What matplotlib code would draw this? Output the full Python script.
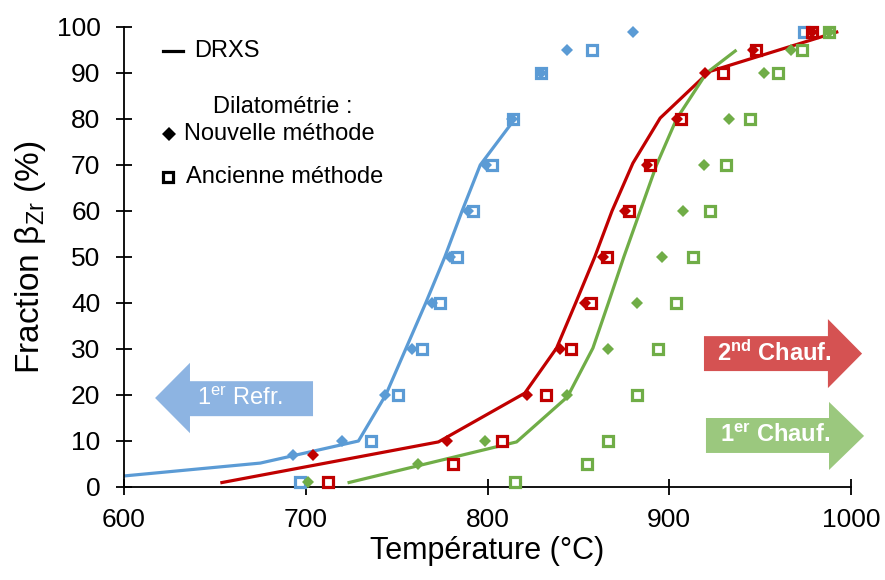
import matplotlib
matplotlib.use("Agg")
import matplotlib.pyplot as plt
from matplotlib.patches import Polygon

plt.rcParams['font.family'] = ['Liberation Sans', 'DejaVu Sans']
plt.rcParams['mathtext.fontset'] = 'custom'
plt.rcParams['mathtext.rm'] = 'Liberation Sans'
plt.rcParams['mathtext.it'] = 'Liberation Sans:italic'
plt.rcParams['mathtext.bf'] = 'Liberation Sans:bold'

# ---------------- data ----------------
# DRXS curves
refr_line_T = [600, 675, 729, 744, 755, 766, 776.5, 786, 796, 815]
refr_line_F = [2.4, 5.2, 10, 20, 30, 40, 50, 60, 70, 80]
chauf2_line_T = [653, 773, 820.5, 838, 848.5, 859, 868.5, 880, 895, 922, 993]
chauf2_line_F = [0.9, 9.8, 20.4, 30.2, 40, 50, 60, 70.4, 80.2, 90.3, 99]
chauf1_line_T = [723, 816, 844, 858, 866.5, 875, 884, 893, 904, 920.5, 937]
chauf1_line_F = [0.9, 9.8, 19.6, 30.2, 40, 50, 60, 70, 80, 90, 95]

# Dilatometry - new method (diamonds)
refr_new_T = [693, 720, 743.5, 758.5, 769.5, 779.5, 789, 799, 813.5, 829.5, 843.5, 880]
refr_new_F = [7, 10, 20, 30, 40, 50, 60, 70, 80, 90, 95, 99]
chauf2_new_T = [704, 777.5, 822, 840, 853.5, 863.5, 875.5, 887.5, 904, 919.5, 946, 978.5]
chauf2_new_F = [7, 10, 20, 30, 40, 50, 60, 70, 80, 90, 95, 99]
chauf1_new_T = [701, 762, 798.5, 843.5, 866.5, 882.5, 896, 907.5, 919, 933, 952, 967, 988]
chauf1_new_F = [1, 5, 10, 20, 30, 40, 50, 60, 70, 80, 90, 95, 99]

# Dilatometry - old method (open squares)
refr_old_T = [697, 736, 751, 764, 774, 783, 792, 802.5, 814, 829.5, 857.5, 974]
refr_old_F = [1, 10, 20, 30, 40, 50, 60, 70, 80, 90, 95, 99]
chauf2_old_T = [712, 781, 808, 832, 846, 857, 866, 878, 889.5, 906.5, 929.5, 948, 978.5]
chauf2_old_F = [1, 5, 10, 20, 30, 40, 50, 60, 70, 80, 90, 95, 99]
chauf1_old_T = [815, 854.5, 866.5, 882.5, 894, 903.5, 913, 922.5, 931, 944.5, 960, 973, 988]
chauf1_old_F = [1, 5, 10, 20, 30, 40, 50, 60, 70, 80, 90, 95, 99]

x_ticks = [600, 700, 800, 900, 1000]
y_ticks = [0, 10, 20, 30, 40, 50, 60, 70, 80, 90, 100]

BLUE = '#5B9BD5'
RED = '#C00000'
GREEN = '#70AD47'

# ---------------- figure ----------------
fig = plt.figure(figsize=(8.85, 5.8), dpi=100)
ax = fig.add_axes([124/885, (580-487)/580, 727/885, 460/580])

lw = 2.3
ax.plot(refr_line_T, refr_line_F, color=BLUE, lw=lw, zorder=2, solid_capstyle='butt')
ax.plot(chauf2_line_T, chauf2_line_F, color=RED, lw=lw, zorder=2, solid_capstyle='butt')
ax.plot(chauf1_line_T, chauf1_line_F, color=GREEN, lw=lw, zorder=2, solid_capstyle='butt')

sq = dict(marker='s', ls='none', ms=6.8, mew=2.3, mfc='white', zorder=3, clip_on=False)
ax.plot(refr_old_T, refr_old_F, mec=BLUE, **sq)
ax.plot(chauf1_old_T, chauf1_old_F, mec=GREEN, **sq)
ax.plot(chauf2_old_T, chauf2_old_F, mec=RED, **sq)

dm = dict(marker='D', ls='none', ms=6.6, mew=0, zorder=4, clip_on=False)
ax.plot(refr_new_T, refr_new_F, mfc=BLUE, **dm)
ax.plot(chauf1_new_T, chauf1_new_F, mfc=GREEN, **dm)
ax.plot(chauf2_new_T, chauf2_new_F, mfc=RED, **dm)

ax.set_xlim(600, 1000)
ax.set_ylim(0, 100)
ax.set_xticks(x_ticks)
ax.set_yticks(y_ticks)
for s in ['top', 'right']:
    ax.spines[s].set_visible(False)
for s in ['left', 'bottom']:
    ax.spines[s].set_linewidth(1.3)
ax.tick_params(direction='inout', length=12, width=1.3, labelsize=19)
ax.tick_params(axis='y', pad=11)
ax.tick_params(axis='x', pad=9)
ax.set_xlabel('Température (°C)', fontsize=22, labelpad=3)
ax.set_ylabel(r'Fraction β$_{\mathrm{Zr}}$ (%)', fontsize=24, labelpad=6)

# ---------------- arrows ----------------
def arrow(body_x0, body_x1, tip_x, body_y0, body_y1, head_y0, head_y1, color):
    ymid = (head_y0 + head_y1) / 2
    pts = [(body_x0, body_y0), (body_x1, body_y0), (body_x1, head_y0), (tip_x, ymid),
           (body_x1, head_y1), (body_x1, body_y1), (body_x0, body_y1)]
    ax.add_patch(Polygon(pts, closed=True, facecolor=color, edgecolor='none',
                         clip_on=False, zorder=1))

# 1er Refr. (left-pointing)
arrow(704.0, 636.3, 617.1, 15.4, 23.0, 11.7, 27.0, '#8DB4E2')
ax.text(664, 19.3, r'1$^{\mathrm{er}}$ Refr.', color='white', fontsize=17,
        ha='center', va='center', zorder=5)
# 2nd Chauf.
arrow(919.1, 987.3, 1006.1, 25.2, 32.8, 21.5, 36.5, '#D55252')
ax.text(958, 29.0, r'2$^{\mathbf{nd}}$ Chauf.', color='white', fontsize=17,
        fontweight='bold', ha='center', va='center', zorder=5, clip_on=False)
# 1er Chauf.
arrow(920.2, 987.9, 1007.2, 7.4, 15.0, 3.7, 18.5, '#9BC87E')
ax.text(958, 11.1, r'1$^{\mathbf{er}}$ Chauf.', color='white', fontsize=17,
        fontweight='bold', ha='center', va='center', zorder=5, clip_on=False)

# ---------------- legend (manual) ----------------
tr = ax.transAxes
ax.plot([0.054, 0.081], [0.948, 0.948], color='black', lw=2.3, transform=tr, clip_on=False)
ax.text(0.096, 0.948, 'DRXS', fontsize=17, va='center', ha='left', transform=tr)
ax.text(0.219, 0.827, 'Dilatométrie :', fontsize=17, va='center', ha='center', transform=tr)
ax.plot([0.062], [0.768], marker='D', ms=6.8, color='black', mew=0, transform=tr, clip_on=False)
ax.text(0.083, 0.768, 'Nouvelle méthode', fontsize=17, va='center', ha='left', transform=tr)
ax.plot([0.061], [0.673], marker='s', ms=7.2, mfc='white', mec='black', mew=2.3,
        transform=tr, clip_on=False)
ax.text(0.085, 0.673, 'Ancienne méthode', fontsize=17, va='center', ha='left', transform=tr)

fig.savefig('out.png', dpi=100)
